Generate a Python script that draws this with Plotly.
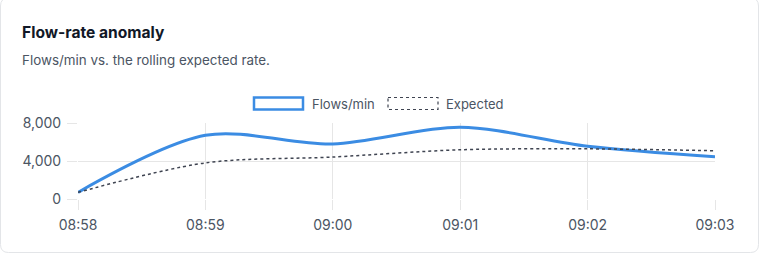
import plotly.graph_objects as go

times = ["08:58", "08:59", "09:00", "09:01", "09:02", "09:03"]
flows = [700, 6700, 5800, 7550, 5550, 4450]
expected = [700, 3800, 4420, 5180, 5280, 5080]
y_ticks = [0, 4000, 8000]
y_tick_labels = ["0", "4,000", "8,000"]

W, H = 760, 256
L, R, T, B = 78, 45, 123, 57
PW, PH = W - L - R, H - T - B

def px(x):
    return (x - L) / PW

def py(y):
    return (H - B - y) / PH

FONT = "Inter, Noto Sans, sans-serif"
GRID = "#e6e6e6"

fig = go.Figure()
fig.add_trace(go.Scatter(
    x=list(range(len(times))), y=flows, name="Flows/min", mode="lines",
    line=dict(color="#3b8ce3", width=3, shape="spline", smoothing=0.9),
))
fig.add_trace(go.Scatter(
    x=list(range(len(times))), y=expected, name="Expected", mode="lines",
    line=dict(color="#3f4451", width=1.5, dash="3px,3px", shape="spline", smoothing=0.9),
))

# card border
x0, x1, y0, y1, r = px(0.5), px(758.5), py(-2), py(252.5), 8
rx, ry = r / PW, r / PH
path = (f"M {x0+rx},{y0} L {x1-rx},{y0} Q {x1},{y0} {x1},{y0-ry} "
        f"L {x1},{y1+ry} Q {x1},{y1} {x1-rx},{y1} L {x0+rx},{y1} "
        f"Q {x0},{y1} {x0},{y1+ry} L {x0},{y0-ry} Q {x0},{y0} {x0+rx},{y0} Z")
shapes = [dict(type="path", path=path, xref="paper", yref="paper",
               line=dict(color="#e3e5e8", width=1), fillcolor="rgba(0,0,0,0)", layer="below")]

# legend boxes
shapes.append(dict(type="rect", xref="paper", yref="paper",
                   x0=px(254), x1=px(303), y0=py(97.5), y1=py(109.5),
                   line=dict(color="#3b8ce3", width=2.5), fillcolor="white"))
shapes.append(dict(type="rect", xref="paper", yref="paper",
                   x0=px(388), x1=px(438), y0=py(97.5), y1=py(109.5),
                   line=dict(color="#3f4451", width=1.2, dash="3px,3px"), fillcolor="white"))

annotations = [
    dict(text="<b>Flow-rate anomaly</b>", x=px(19.5), y=py(32.5), xref="paper", yref="paper",
         xanchor="left", yanchor="middle", showarrow=False,
         font=dict(family=FONT, size=15.6, color="#111827")),
    dict(text="Flows/min vs. the rolling expected rate.", x=px(19.5), y=py(60), xref="paper", yref="paper",
         xanchor="left", yanchor="middle", showarrow=False,
         font=dict(family=FONT, size=13.4, color="#4b5563")),
    dict(text="Flows/min", x=px(310), y=py(103.5), xref="paper", yref="paper",
         xanchor="left", yanchor="middle", showarrow=False,
         font=dict(family=FONT, size=13, color="#4b5563")),
    dict(text="Expected", x=px(444), y=py(103.5), xref="paper", yref="paper",
         xanchor="left", yanchor="middle", showarrow=False,
         font=dict(family=FONT, size=13, color="#4b5563")),
]

fig.update_layout(
    width=W, height=H, margin=dict(l=L, r=R, t=T, b=B),
    paper_bgcolor="white", plot_bgcolor="white", showlegend=False,
    shapes=shapes, annotations=annotations,
    font=dict(family=FONT, size=14, color="#4b5563"),
    xaxis=dict(range=[0, len(times) - 1], tickvals=list(range(len(times))), ticktext=times,
               showgrid=True, gridcolor=GRID, gridwidth=1, zeroline=False,
               showline=False, ticks="outside", ticklen=10, tickcolor=GRID,
               ticklabelstandoff=3,
               tickfont=dict(family=FONT, size=14, color="#4b5563")),
    yaxis=dict(range=[0, 8000], tickvals=y_ticks, ticktext=y_tick_labels,
               showgrid=True, gridcolor=GRID, gridwidth=1, zeroline=False,
               showline=False, ticks="outside", ticklen=10, tickcolor=GRID,
               ticklabelstandoff=3,
               tickfont=dict(family=FONT, size=14, color="#4b5563")),
)

fig.write_html("out.html")
